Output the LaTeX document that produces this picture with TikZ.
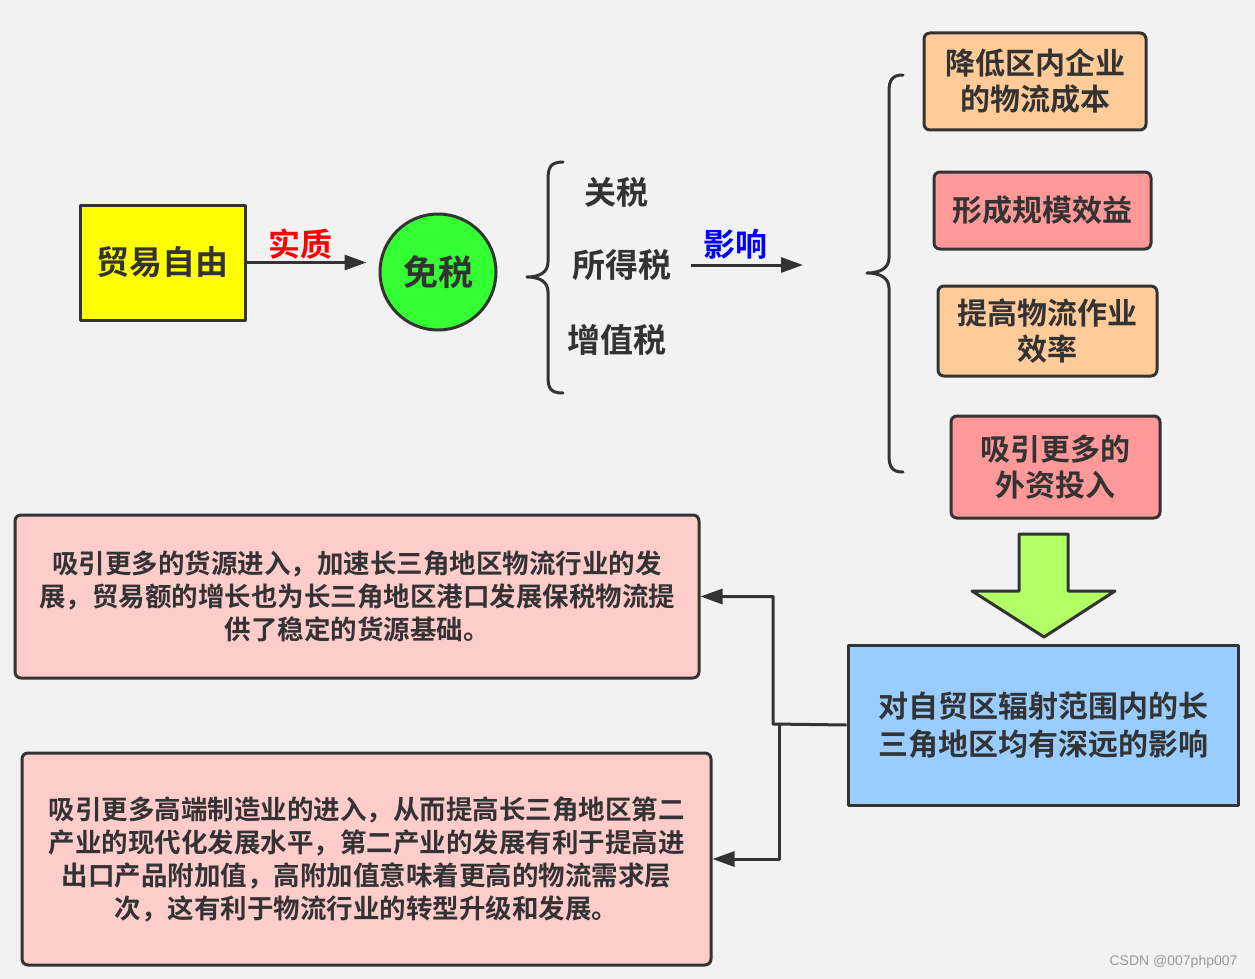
\documentclass[tikz,border=0pt]{standalone}
\usepackage{fontspec}
\setmainfont{Noto Sans CJK SC}[BoldFont={* Bold}]
\newfontfamily\wmfont{Liberation Sans}
\usetikzlibrary{arrows.meta}
\definecolor{bg}{HTML}{F2F2F2}
\definecolor{ink}{HTML}{333333}
\definecolor{yel}{HTML}{FFFF00}
\definecolor{grn}{HTML}{33FF33}
\definecolor{peach}{HTML}{FFCC99}
\definecolor{rose}{HTML}{FF9999}
\definecolor{pinkbg}{HTML}{FFCCCC}
\definecolor{sky}{HTML}{99CCFF}
\definecolor{lime}{HTML}{B3FF66}
\begin{document}
\begin{tikzpicture}[x=1pt, y=-1pt, line join=round,
  big/.style={font=\bfseries\fontsize{30}{36}\selectfont, text=ink, align=center},
  plain/.style={big, inner sep=0pt},
  tag/.style={plain, font=\bfseries\fontsize{32}{36}\selectfont},
  sqbox/.style={big, draw=ink, line width=3pt, inner sep=0pt},
  rbox/.style={sqbox, rounded corners=6pt},
  note/.style={rbox, fill=pinkbg, font=\bfseries\fontsize{26.5}{33}\selectfont},
  conn/.style={draw=ink, line width=3pt, -{Triangle[length=22pt, width=15pt]}},
  brc/.style={draw=ink, line width=3pt, line cap=round}]
  \fill[bg] (0,0) rectangle (1255,979);
  \useasboundingbox (0,0) rectangle (1255,979);
  % left part
  \node[sqbox, fill=yel, minimum width=165pt, minimum height=115pt, font=\bfseries\fontsize{33}{38}\selectfont] (free) at (162.5,262.5) {贸易自由};
  \node[sqbox, circle, fill=grn, minimum size=116pt, font=\bfseries\fontsize{35}{40}\selectfont] (duty) at (438,272) {免税};
  \draw[conn, shorten >=12pt] (free.east) -- (duty.west |- free.east) node[midway, above=2pt, tag, text=red, xshift=-12pt] {实质};
  % taxes
  \draw[brc] (563,162) .. controls (550,162) and (548,168) .. (548,180) -- (548,262) .. controls (548,272) and (540,277) .. (527,277) .. controls (540,277) and (548,282) .. (548,292) -- (548,376) .. controls (548,388) and (550,393) .. (563,393);
  \node[plain, font=\bfseries\fontsize{32}{36}\selectfont] (tariff) at (616,192) {关税};
  \node[plain, font=\bfseries\fontsize{33}{36}\selectfont] (income) at (622,265) {所得税};
  \node[plain, font=\bfseries\fontsize{33}{36}\selectfont] (vat) at (617,340) {增值税};
  \coordinate (effect) at (803,265);
  \draw[conn, shorten <=19pt] (income.east |- effect) -- (effect) node[midway, above=4pt, tag, text=blue, xshift=-2pt] {影响};
  % effects
  \draw[brc] (903,75) .. controls (892,75) and (889,80) .. (889,92) -- (889,258) .. controls (889,268) and (880,273) .. (867,273) .. controls (880,273) and (889,278) .. (889,288) -- (889,455) .. controls (889,467) and (892,472) .. (903,472);
  \node[rbox, fill=peach, minimum width=222pt, minimum height=97pt] (cost) at (1035,81.5) {降低区内企业\\的物流成本};
  \node[rbox, fill=rose, minimum width=217pt, minimum height=77pt] (scale) at (1042.5,210.5) {形成规模效益};
  \node[rbox, fill=peach, minimum width=219pt, minimum height=90pt] (speed) at (1047.5,331) {提高物流作业\\效率};
  \node[rbox, fill=rose, minimum width=209pt, minimum height=102pt] (invest) at (1055.5,467) {吸引更多的\\外资投入};
  \fill[lime, draw=ink, line width=3pt] (1019,534) -- (1068,534) -- (1068,591) -- (1115,591) -- (1044,637) -- (972,591) -- (1019,591) -- cycle;
  \node[sqbox, fill=sky, minimum width=390pt, minimum height=160pt, font=\bfseries\fontsize{30}{38}\selectfont] (region) at (1043,725) {对自贸区辐射范围内的长\\三角地区均有深远的影响};
  % notes
  \node[note, minimum width=684pt, minimum height=163pt] (goods) at (357,596.5) {吸引更多的货源进入，加速长三角地区物流行业的发\\展，贸易额的增长也为长三角地区港口发展保税物流提\\供了稳定的货源基础。};
  \node[note, minimum width=689pt, minimum height=212pt] (maker) at (366.5,859) {吸引更多高端制造业的进入，从而提高长三角地区第二\\产业的现代化发展水平，第二产业的发展有利于提高进\\出口产品附加值，高附加值意味着更高的物流需求层\\次，这有利于物流行业的转型升级和发展。};
  \coordinate (splitA) at (773,724);
  \coordinate (splitB) at (779,724);
  \draw[conn] (region.west) -- (splitA) |- (goods.east);
  \draw[conn] (splitB) |- (maker.east);
  \node[font=\wmfont\fontsize{14}{16}\selectfont, text=gray!80, anchor=east] (mark) at (1241,962) {CSDN @007php007};
\end{tikzpicture}
\end{document}
